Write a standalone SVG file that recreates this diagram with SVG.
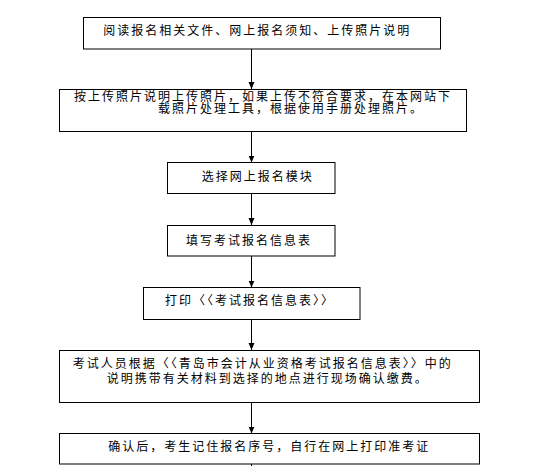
<svg xmlns="http://www.w3.org/2000/svg" width="551" height="466" viewBox="0 0 551 466">
<style>
.box{fill:#fff;stroke:#000;stroke-width:1}
.t{font-family:"Noto Sans CJK SC","Liberation Sans",sans-serif;font-size:12px;letter-spacing:2px;fill:#000}
.c{stroke:#000;stroke-width:1;fill:none}
</style>
<defs>
<marker id="ah" markerUnits="userSpaceOnUse" markerWidth="8" markerHeight="8" refX="7" refY="3" orient="auto">
<path d="M0,0 L7,3 L0,6 z" fill="#000"/>
</marker>
</defs>
<rect width="551" height="466" fill="#fff"/>
<g id="connectors">
<line class="c" x1="251.5" y1="49" x2="251.5" y2="89" marker-end="url(#ah)"/>
<line class="c" x1="251.5" y1="131.5" x2="251.5" y2="162.5" marker-end="url(#ah)"/>
<line class="c" x1="251.5" y1="193.5" x2="251.5" y2="225" marker-end="url(#ah)"/>
<line class="c" x1="251.5" y1="256" x2="251.5" y2="287.5" marker-end="url(#ah)"/>
<line class="c" x1="251.5" y1="319.5" x2="251.5" y2="350" marker-end="url(#ah)"/>
<line class="c" x1="251.5" y1="402.5" x2="251.5" y2="433.5" marker-end="url(#ah)"/>
<line class="c" x1="251.5" y1="464" x2="251.5" y2="466"/>
</g>
<g id="n1">
<rect class="box" x="83.5" y="17.5" width="357" height="31.5"/>
<text class="t" x="103.3" y="34.5">阅读报名相关文件、网上报名须知、上传照片说明</text>
</g>
<g id="n2">
<rect class="box" x="59.5" y="89.5" width="407" height="42"/>
<text class="t"><tspan x="74" y="100.5">按上传照片说明上传照片，如果上传不符合要求，在本网站下</tspan><tspan x="158" y="112.5">载照片处理工具，根据使用手册处理照片。</tspan></text>
</g>
<g id="n3">
<rect class="box" x="167.5" y="162.5" width="167.5" height="31"/>
<text class="t" x="201.7" y="181">选择网上报名模块</text>
</g>
<g id="n4">
<rect class="box" x="167.5" y="225.5" width="167.5" height="30.5"/>
<text class="t" x="186" y="244.5">填写考试报名信息表</text>
</g>
<g id="n5">
<rect class="box" x="143.5" y="287.5" width="216.5" height="32"/>
<text class="t" x="165" y="304.5">打印〈〈考试报名信息表〉〉</text>
</g>
<g id="n6">
<rect class="box" x="59.5" y="350.5" width="420" height="52"/>
<text class="t"><tspan x="72.7" y="367.5">考试人员根据〈〈青岛市会计从业资格考试报名信息表〉〉中的</tspan><tspan x="106.7" y="382.5">说明携带有关材料到选择的地点进行现场确认缴费。</tspan></text>
</g>
<g id="n7">
<rect class="box" x="59.5" y="433.5" width="420" height="30.5"/>
<text class="t" x="108.3" y="451">确认后，考生记住报名序号，自行在网上打印准考证</text>
</g>
</svg>
